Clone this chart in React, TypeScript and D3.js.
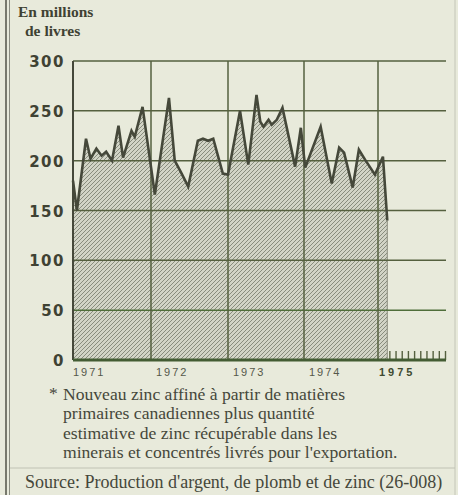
import React from "react";
import * as d3 from "d3";

// Month position (months since Jan 1971) and output (millions of pounds)
const monthPos = [
  0, 0.6, 2.0, 2.7, 3.6, 4.4, 5.1, 6.0, 7.0, 7.7, 9.0, 9.5, 10.7,
  12.6, 14.8, 15.7, 16.7, 17.8, 19.3, 20.1, 20.9, 21.7, 23.2,
  24.0, 25.9, 27.2, 28.5, 29.1, 29.6, 30.4, 30.9, 31.7, 32.6, 34.6,
  35.5, 36.2, 38.7, 40.5, 41.7, 42.5, 43.9, 44.9, 45.9, 47.5,
  48.8, 49.5,
];
const zincOutput = [
  180, 150, 222, 202, 212, 205, 209, 200, 235, 203, 230, 224, 254,
  166, 263, 200, 188, 174, 220, 222, 220, 222, 187,
  186, 250, 196, 266, 239, 234, 241, 236, 241, 253, 194,
  233, 193, 234, 177, 213, 208, 173, 211, 201, 186,
  204, 140,
];

const yTicks = [0, 50, 100, 150, 200, 250, 300];
const yearLabels = ["1971", "1972", "1973", "1974", "1975"];
const yearMonths = [0, 12, 24, 36, 48];
const monthTicks1975 = [50, 51, 52, 53, 54, 55, 56, 57, 58, 59];

const titleLines = ["En millions", "de livres"];
const noteLines = [
  "Nouveau zinc affiné à partir de matières",
  "primaires canadiennes plus quantité",
  "estimative de zinc récupérable dans les",
  "minerais et concentrés livrés pour l'exportation.",
];
const sourceText = "Source: Production d'argent, de plomb et de zinc (26-008)";

const W = 458;
const H = 495;
const ink = "#45483a";
const grid = "#55603f";

export default function App() {
  const x = d3
    .scaleLinear()
    .domain([0, 12, 24, 36, 48, 59])
    .range([73, 151, 228, 304, 378, 446]);
  const y = d3.scaleLinear().domain([0, 300]).range([360, 61]);

  const pts: [number, number][] = monthPos.map((m, i) => [m, zincOutput[i]]);
  const area = d3
    .area<[number, number]>()
    .x((d) => x(d[0]))
    .y0(y(0))
    .y1((d) => y(d[1]));
  const line = d3
    .line<[number, number]>()
    .x((d) => x(d[0]))
    .y((d) => y(d[1]));

  const lastM = monthPos[monthPos.length - 1];

  return (
    <div style={{ position: "fixed", left: 0, top: 0 }}>
      <svg width={W} height={H} style={{ display: "block" }}>
        <defs>
          <pattern id="hatch" patternUnits="userSpaceOnUse" width={4} height={4}>
            <rect width={4} height={4} fill="#d2d4c6" />
            <path
              d="M-1,1 l2,-2 M0,4 l4,-4 M3,5 l2,-2"
              stroke="#808375"
              strokeWidth={0.9}
            />
          </pattern>
        </defs>
        <rect width={W} height={H} fill="#e8eadb" />
        {/* page borders */}
        <line x1={6} x2={6} y1={0} y2={H} stroke="#5a5c50" strokeWidth={1.6} />
        <line x1={9.5} x2={9.5} y1={0} y2={H} stroke="#8a8c80" strokeWidth={1} />
        <line x1={455} x2={455} y1={0} y2={H} stroke="#c4c6b8" strokeWidth={1} />
        <line x1={10} x2={455} y1={468} y2={468} stroke="#c0c2b4" strokeWidth={1} />

        {/* title */}
        {titleLines.map((t, i) => (
          <text
            key={t}
            x={i === 0 ? 18 : 25}
            y={17 + i * 19}
            fontFamily="Liberation Serif"
            fontWeight="bold"
            fontSize={15.5}
            fill="#3f4233"
          >
            {t}
          </text>
        ))}

        {/* area */}
        <path d={area(pts) || ""} fill="url(#hatch)" />
        <line
          x1={x(lastM)}
          x2={x(lastM)}
          y1={y(zincOutput[zincOutput.length - 1])}
          y2={y(0)}
          stroke="#8a8c7e"
          strokeWidth={1}
        />

        {/* grid */}
        {yTicks
          .filter((v) => v > 0)
          .map((v) => (
            <line
              key={v}
              x1={x(0)}
              x2={x(59)}
              y1={y(v)}
              y2={y(v)}
              stroke={v === 50 ? "#4f6e3a" : grid}
              strokeWidth={1.5}
            />
          ))}
        {yearMonths.map((m) => (
          <line
            key={m}
            x1={x(m)}
            x2={x(m)}
            y1={y(300)}
            y2={y(0)}
            stroke={m === 0 ? ink : grid}
            strokeWidth={m === 0 ? 2 : 1.5}
          />
        ))}
        {monthTicks1975.map((m) => (
          <line
            key={m}
            x1={x(m) - 0.5}
            x2={x(m) - 0.5}
            y1={y(0)}
            y2={y(0) - 9}
            stroke={grid}
            strokeWidth={1.4}
          />
        ))}
        <line
          x1={x(0)}
          x2={x(59)}
          y1={y(0)}
          y2={y(0)}
          stroke="#435c33"
          strokeWidth={3}
        />

        {/* data line */}
        <path
          d={line(pts) || ""}
          fill="none"
          stroke={ink}
          strokeWidth={2.6}
          strokeLinejoin="miter"
        />

        {/* y tick labels */}
        {yTicks.map((v) => (
          <text
            key={v}
            x={65}
            y={y(v) + 6}
            textAnchor="end"
            fontFamily="DejaVu Sans"
            fontWeight="bold"
            fontSize={15}
            letterSpacing={1.5}
            fill="#3f4233"
          >
            {v}
          </text>
        ))}

        {/* year labels */}
        {yearLabels.map((t, i) => (
          <text
            key={t}
            x={x(yearMonths[i]) + (i === 0 ? 0 : i === 4 ? 1 : 5)}
            y={376}
            fontFamily="Liberation Sans"
            fontWeight={i === 4 ? "bold" : "normal"}
            fontSize={11}
            letterSpacing={i === 4 ? 3 : 2}
            fill={i === 4 ? "#3f4a30" : "#55584a"}
          >
            {t}
          </text>
        ))}

        {/* footnote */}
        <text x={49} y={399} fontFamily="Liberation Serif" fontSize={17.5} fill="#45473a">
          *
        </text>
        {noteLines.map((t, i) => (
          <text
            key={i}
            x={63}
            y={400 + i * 19.3}
            fontFamily="Liberation Serif"
            fontSize={17.6}
            fill="#45473a"
          >
            {t}
          </text>
        ))}
        <text x={25} y={488} fontFamily="Liberation Serif" fontSize={18} fill="#45473a">
          {sourceText}
        </text>
      </svg>
    </div>
  );
}
